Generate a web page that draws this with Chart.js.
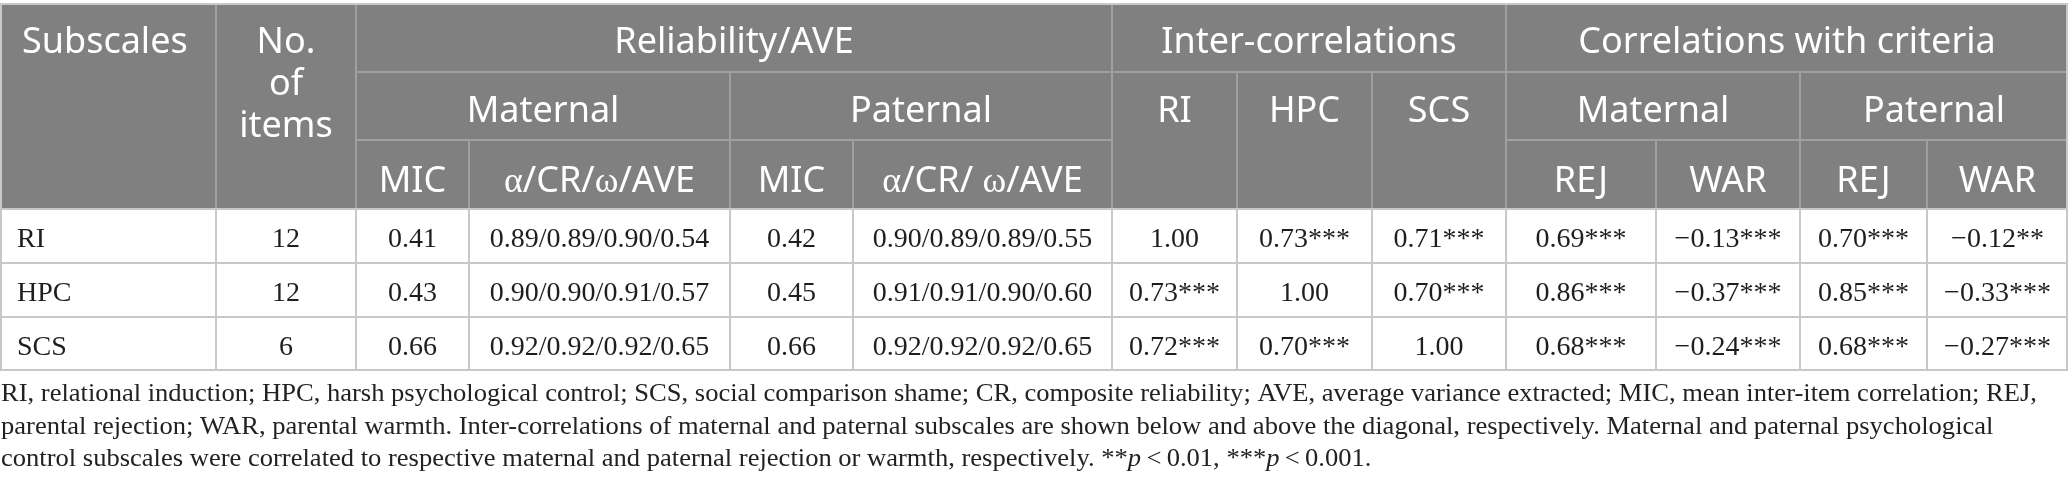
<!DOCTYPE html>
<html><head><meta charset="utf-8">
<script src="https://cdn.jsdelivr.net/npm/chart.js@4.4.1/dist/chart.umd.min.js"></script>
<style>html,body{margin:0;padding:0;background:#fff;overflow:hidden}canvas{display:block}</style>
</head><body>
<canvas id="c" width="2068" height="500" style="width:2068px;height:500px"></canvas>
<script>
// ---------- data ----------
const subscales = ['RI', 'HPC', 'SCS'];
const itemCounts = ['12', '12', '6'];
const micMaternal = ['0.41', '0.43', '0.66'];
const relMaternal = ['0.89/0.89/0.90/0.54', '0.90/0.90/0.91/0.57', '0.92/0.92/0.92/0.65'];
const micPaternal = ['0.42', '0.45', '0.66'];
const relPaternal = ['0.90/0.89/0.89/0.55', '0.91/0.91/0.90/0.60', '0.92/0.92/0.92/0.65'];
const interRI = ['1.00', '0.73***', '0.72***'];
const interHPC = ['0.73***', '1.00', '0.70***'];
const interSCS = ['0.71***', '0.70***', '1.00'];
const rejMaternal = ['0.69***', '0.86***', '0.68***'];
const warMaternal = ['\u22120.13***', '\u22120.37***', '\u22120.24***'];
const rejPaternal = ['0.70***', '0.85***', '0.68***'];
const warPaternal = ['\u22120.12**', '\u22120.33***', '\u22120.27***'];

const topHeaders = ['Subscales', 'Reliability/AVE', 'Inter-correlations', 'Correlations with criteria'];
const itemsHeader = ['No.', 'of', 'items'];
const midHeaders = ['Maternal', 'Paternal', 'RI', 'HPC', 'SCS', 'Maternal', 'Paternal'];
const leafHeaders = ['MIC', '\u03b1/CR/\u03c9/AVE', 'MIC', '\u03b1/CR/ \u03c9/AVE', 'REJ', 'WAR', 'REJ', 'WAR'];
const footnoteLines = [
  'RI, relational induction; HPC, harsh psychological control; SCS, social comparison shame; CR, composite reliability; AVE, average variance extracted; MIC, mean inter-item correlation; REJ,',
  'parental rejection; WAR, parental warmth. Inter-correlations of maternal and paternal subscales are shown below and above the diagonal, respectively. Maternal and paternal psychological',
  'control subscales were correlated to respective maternal and paternal rejection or warmth, respectively. '
];

// ---------- layout (in scale units) ----------
const COLS = [0, 216, 356, 469, 730, 853, 1112, 1237, 1372, 1506, 1656, 1800, 1927, 2068];
const ROWS = [5, 72, 140, 209, 263, 317, 370];
const HEAD_BG = '#808080', HEAD_LINE = '#a0a0a0', BODY_LINE = '#c8c8c8';
const SANS = '"Noto Sans", "Open Sans", sans-serif';
const SERIF = '"Liberation Serif", "DejaVu Serif", serif';

const tablePlugin = {
  id: 'tablePlugin',
  afterDraw(chart) {
    const ctx = chart.ctx, sx = chart.scales.x, sy = chart.scales.y;
    const X = v => sx.getPixelForValue(v), Y = v => sy.getPixelForValue(v);
    const cx = i => (X(COLS[i]) + X(COLS[i + 1])) / 2;
    ctx.save();
    ctx.fillStyle = HEAD_BG;
    ctx.fillRect(X(0), Y(ROWS[0]), X(2068) - X(0), Y(ROWS[3]) - Y(ROWS[0]));
    const line = (x1, y1, x2, y2, c, w) => {
      ctx.strokeStyle = c; ctx.lineWidth = w; ctx.beginPath();
      ctx.moveTo(X(x1), Y(y1)); ctx.lineTo(X(x2), Y(y2)); ctx.stroke();
    };
    line(COLS[2], ROWS[1], COLS[13], ROWS[1], HEAD_LINE, 2);
    line(COLS[2], ROWS[2], COLS[6], ROWS[2], HEAD_LINE, 2);
    line(COLS[9], ROWS[2], COLS[13], ROWS[2], HEAD_LINE, 2);
    [1, 2, 6, 9].forEach(i => line(COLS[i], ROWS[0], COLS[i], ROWS[3], HEAD_LINE, 2));
    [4, 7, 8, 11].forEach(i => line(COLS[i], ROWS[1], COLS[i], ROWS[3], HEAD_LINE, 2));
    [3, 5, 10, 12].forEach(i => line(COLS[i], ROWS[2], COLS[i], ROWS[3], HEAD_LINE, 2));
    line(0, ROWS[0] - 1, 2068, ROWS[0] - 1, BODY_LINE, 2);
    [3, 4, 5, 6].forEach(r => line(0, ROWS[r], 2068, ROWS[r], BODY_LINE, 2));
    COLS.forEach((c, i) => {
      const xx = i === 0 ? c + 1 : (i === COLS.length - 1 ? c - 1 : c);
      line(xx, ROWS[3], xx, ROWS[6], BODY_LINE, 2);
    });
    line(1, ROWS[0], 1, ROWS[3], BODY_LINE, 2);
    line(2067, ROWS[0], 2067, ROWS[3], BODY_LINE, 2);

    // header text
    ctx.fillStyle = '#ffffff';
    ctx.textBaseline = 'alphabetic';
    const hFont = '36px ' + SANS;
    const gFont = '36px ' + SERIF;
    const txt = (s, x, y, align, font) => { ctx.font = font; ctx.textAlign = align; ctx.fillText(s, x, y); };
    const runs = (parts, centerX, y) => {
      let total = 0;
      parts.forEach(p => { ctx.font = p[1]; total += ctx.measureText(p[0]).width; });
      let x = centerX - total / 2;
      ctx.textAlign = 'left';
      parts.forEach(p => { ctx.font = p[1]; ctx.fillText(p[0], x, Y(y)); x += ctx.measureText(p[0]).width; });
    };
    txt(topHeaders[0], X(22), Y(53), 'left', hFont);
    itemsHeader.forEach((s, k) => txt(s, cx(1), Y(53 + k * 42), 'center', hFont));
    txt(topHeaders[1], (X(COLS[2]) + X(COLS[6])) / 2, Y(53), 'center', hFont);
    txt(topHeaders[2], (X(COLS[6]) + X(COLS[9])) / 2, Y(53), 'center', hFont);
    txt(topHeaders[3], (X(COLS[9]) + X(COLS[13])) / 2, Y(53), 'center', hFont);
    const midPos = [[2, 4], [4, 6], [6, 7], [7, 8], [8, 9], [9, 11], [11, 13]];
    midHeaders.forEach((s, k) => {
      const [a, b] = midPos[k];
      txt(s, (X(COLS[a]) + X(COLS[b])) / 2, Y(122), 'center', hFont);
    });
    const leafCols = [2, 3, 4, 5, 9, 10, 11, 12];
    leafHeaders.forEach((s, k) => {
      const c = cx(leafCols[k]);
      if (s.indexOf('\u03b1') >= 0) {
        const parts = [];
        s.split(/([\u03b1\u03c9])/).forEach(t => { if (t) parts.push([t, /[\u03b1\u03c9]/.test(t) ? gFont : hFont]); });
        runs(parts, c, 192);
      } else {
        txt(s, c, Y(192), 'center', hFont);
      }
    });

    // body text
    ctx.fillStyle = '#1e1e1e';
    const bFont = '28px ' + SERIF;
    const bodyCols = [itemCounts, micMaternal, relMaternal, micPaternal, relPaternal, interRI, interHPC, interSCS,
                      rejMaternal, warMaternal, rejPaternal, warPaternal];
    subscales.forEach((s, r) => {
      const base = (ROWS[3 + r] + ROWS[4 + r]) / 2 + 11;
      txt(s, X(17), Y(base), 'left', bFont);
      bodyCols.forEach((arr, k) => txt(arr[r], cx(k + 1), Y(base), 'center', bFont));
    });

    // footnote
    ctx.fillStyle = '#222222';
    const fFont = '26px ' + SERIF;
    ctx.font = fFont;
    const w1 = ctx.measureText(footnoteLines[0]).width;
    const fs = 2036 / w1;
    const fBase = [401, 434, 466];
    footnoteLines.forEach((s, k) => {
      ctx.save();
      ctx.translate(X(1), Y(fBase[k]));
      ctx.scale(fs, 1);
      ctx.font = fFont; ctx.textAlign = 'left';
      ctx.fillText(s, 0, 0);
      if (k === 2) {
        let x = ctx.measureText(s).width;
        const it = 'italic 26px ' + SERIF;
        [['**', fFont], ['p', it], ['\u2009<\u20090.01, ***', fFont], ['p', it], ['\u2009<\u20090.001.', fFont]].forEach(p => {
          ctx.font = p[1]; ctx.fillText(p[0], x, 0); x += ctx.measureText(p[0]).width;
        });
      }
      ctx.restore();
    });
    ctx.restore();
  }
};

new Chart(document.getElementById('c'), {
  type: 'scatter',
  data: { datasets: [{ data: [], pointRadius: 0 }] },
  options: {
    responsive: false, animation: false, devicePixelRatio: 1,
    layout: { padding: 0 },
    plugins: { legend: { display: false }, tooltip: { enabled: false } },
    scales: {
      x: { type: 'linear', min: 0, max: 2068, display: false },
      y: { type: 'linear', min: 0, max: 500, reverse: true, display: false }
    }
  },
  plugins: [tablePlugin]
});
</script>
</body></html>
